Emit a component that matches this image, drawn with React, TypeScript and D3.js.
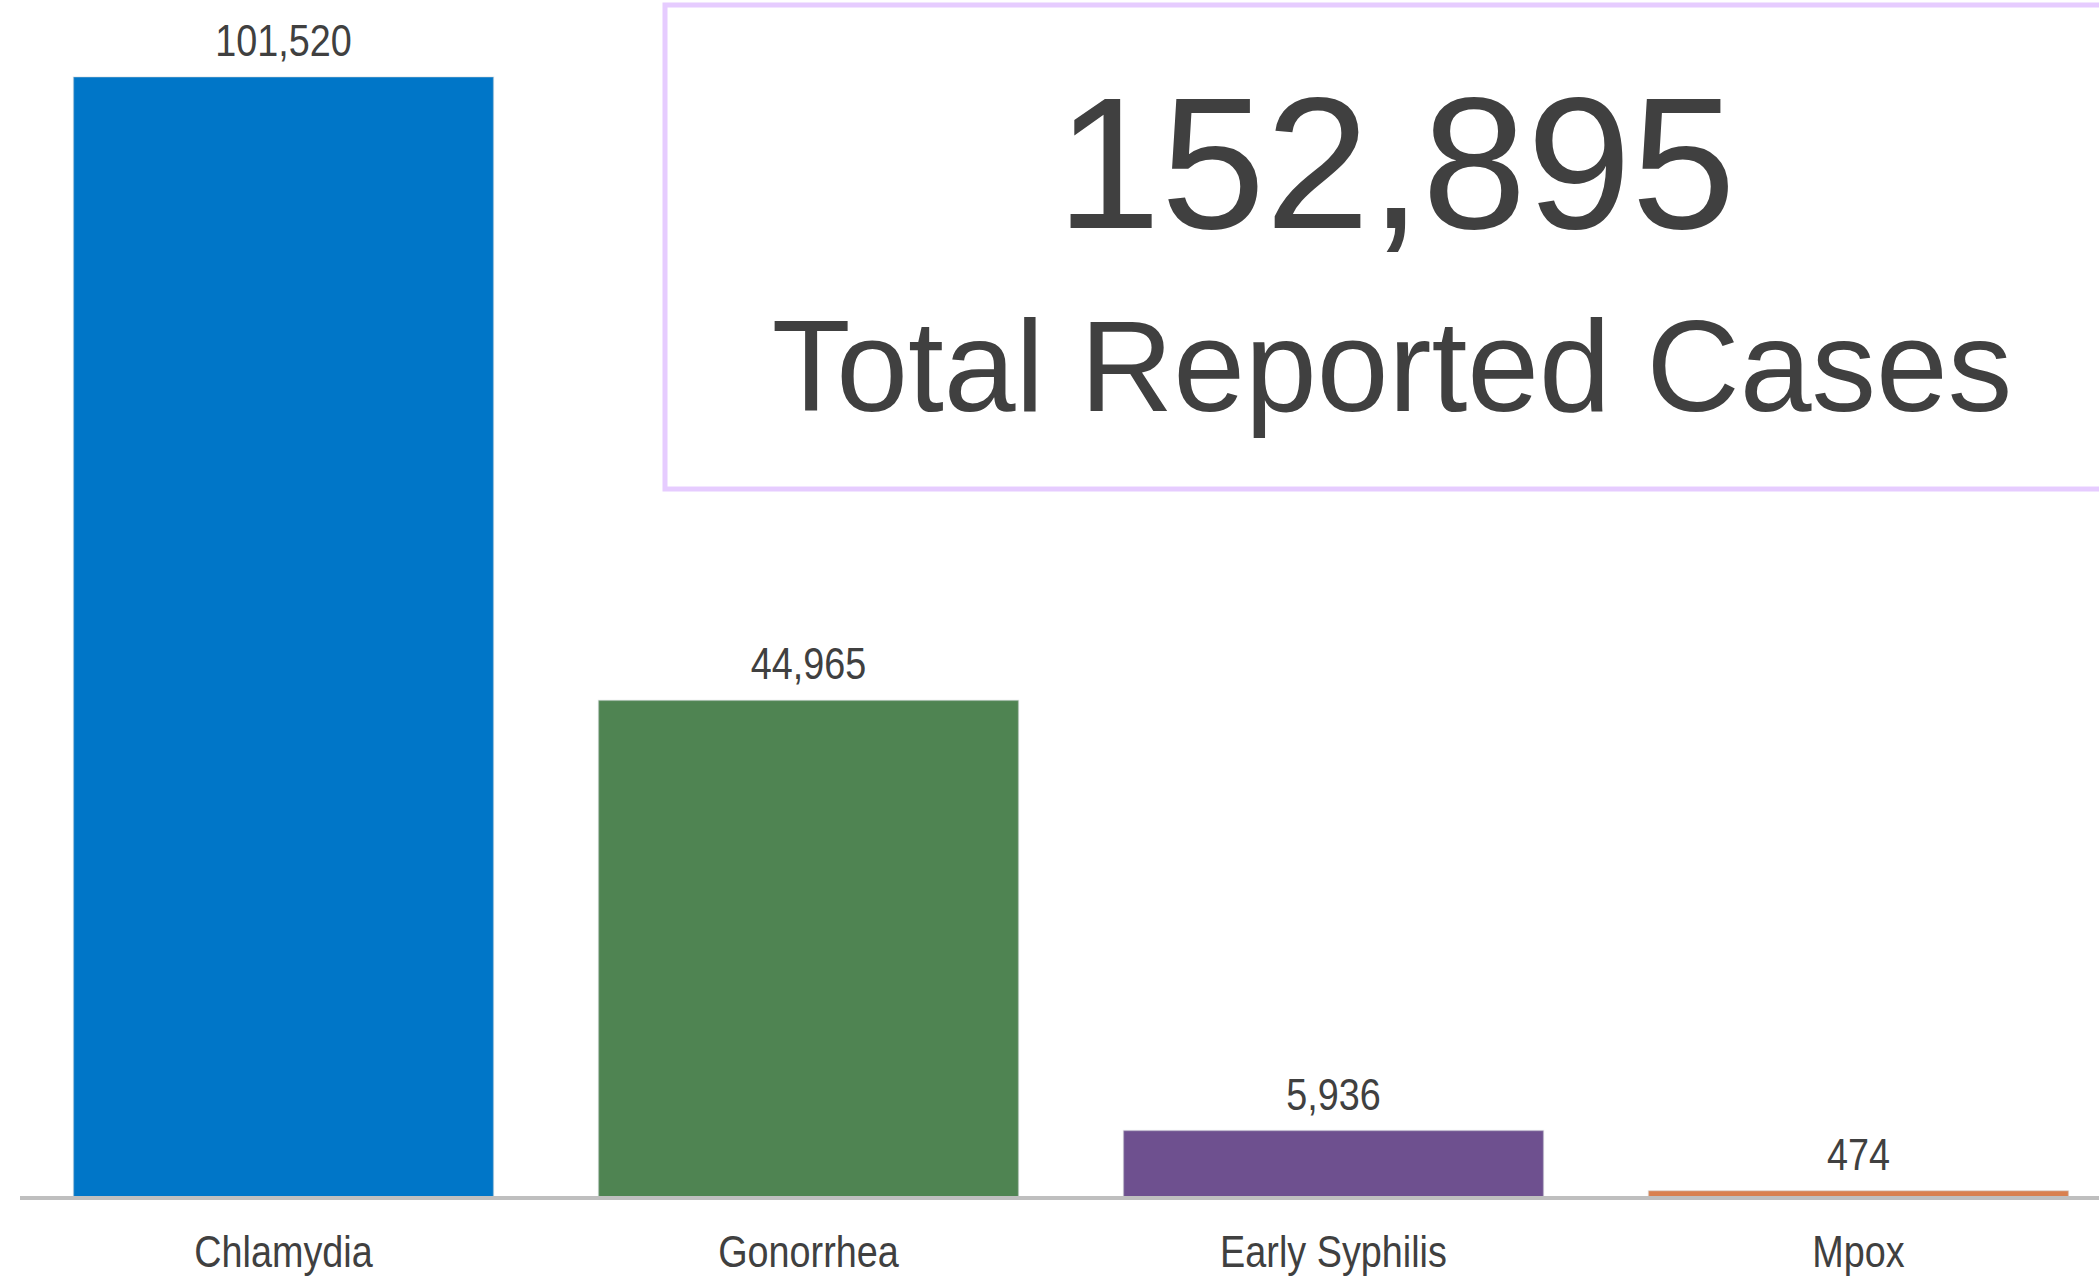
import React from "react";
import * as d3 from "d3";

const categories = ["Chlamydia", "Gonorrhea", "Early Syphilis", "Mpox"];
const cases = [101520, 44965, 5936, 474];
const barColors = ["#0076C8", "#4F8452", "#6E508F", "#D9804F"];
const totalValue = "152,895";
const totalLabel = "Total Reported Cases";

const W = 2099;
const H = 1276;
const baseline = 1198;

export default function App() {
  const x = d3
    .scaleBand<string>()
    .domain(categories)
    .range([21, 2121])
    .paddingInner(0.2)
    .paddingOuter(0.1);
  const y = d3.scaleLinear().domain([0, d3.max(cases) as number]).range([baseline, 79]);
  const fmt = d3.format(",");
  const sans = "'Liberation Sans', Arial, sans-serif";
  const squeeze = 0.84;

  return (
    <svg
      width={W}
      height={H}
      style={{ position: "absolute", left: 0, top: 0, display: "block", background: "#fff" }}
    >
      <rect x={665} y={5} width={1462} height={484} fill="#fff" stroke="#E6CCFF" strokeWidth={5} />
      <text x={1396} y={228} textAnchor="middle" fontFamily={sans} fontSize={188} fill="#404040">
        {totalValue}
      </text>
      <text x={1392} y={411} textAnchor="middle" fontFamily={sans} fontSize={129} fill="#404040">
        {totalLabel}
      </text>
      {categories.map((c, i) => {
        const bx = x(c) as number;
        const by = y(cases[i]);
        const cx = bx + x.bandwidth() / 2;
        return (
          <g key={c}>
            <rect
              x={bx}
              y={by - 2}
              width={x.bandwidth()}
              height={baseline - by + 2}
              fill={barColors[i]}
              stroke="rgba(200,205,210,0.35)"
              strokeWidth={1.5}
            />
            <text
              transform={`translate(${cx},${by - 23}) scale(${squeeze},1)`}
              textAnchor="middle"
              fontFamily={sans}
              fontSize={45}
              fill="#404040"
            >
              {fmt(cases[i])}
            </text>
            <text
              transform={`translate(${cx},1267) scale(${squeeze},1)`}
              textAnchor="middle"
              fontFamily={sans}
              fontSize={45}
              fill="#404040"
            >
              {c}
            </text>
          </g>
        );
      })}
      <line x1={20} x2={W} y1={baseline} y2={baseline} stroke="#BFBFBF" strokeWidth={4} />
    </svg>
  );
}
